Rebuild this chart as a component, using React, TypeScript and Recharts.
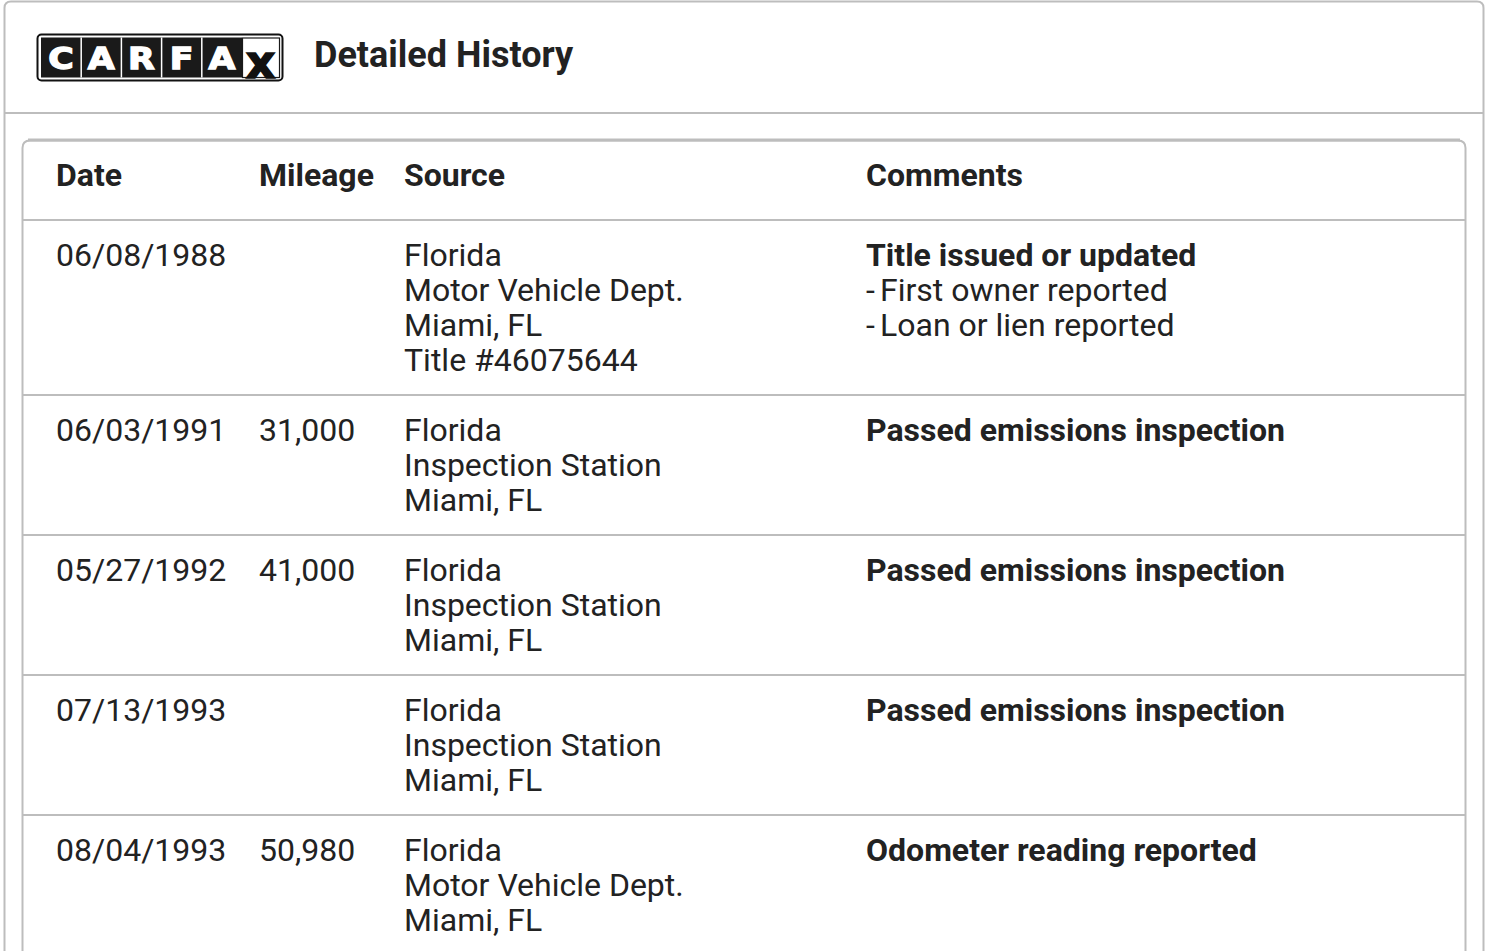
import React from "react";
import { ComposedChart, Customized } from "recharts";

const headers = ["Date", "Mileage", "Source", "Comments"];
const dates = ["06/08/1988", "06/03/1991", "05/27/1992", "07/13/1993", "08/04/1993"];
const mileages = ["", "31,000", "41,000", "", "50,980"];
const sources = [
  ["Florida", "Motor Vehicle Dept.", "Miami, FL", "Title #46075644"],
  ["Florida", "Inspection Station", "Miami, FL"],
  ["Florida", "Inspection Station", "Miami, FL"],
  ["Florida", "Inspection Station", "Miami, FL"],
  ["Florida", "Motor Vehicle Dept.", "Miami, FL"],
];
const commentTitles = [
  "Title issued or updated",
  "Passed emissions inspection",
  "Passed emissions inspection",
  "Passed emissions inspection",
  "Odometer reading reported",
];
const commentDetails = [
  ["First owner reported", "Loan or lien reported"],
  [],
  [],
  [],
  [],
];
const logoLetters = ["C", "A", "R", "F", "A"];
const pageTitle = "Detailed History";

const rows = dates.map((d, i) => ({
  date: d,
  mileage: mileages[i],
  source: sources[i],
  title: commentTitles[i],
  details: commentDetails[i],
}));

const W = 1489;
const H = 951;
const FONT = "Roboto, 'Noto Sans', sans-serif";
const TEXT = "#222222";
const BORDER = "#bdbdbd";
const COLX = [56, 259, 404, 866];
const LINE_H = 35;
const FS = 32;
const HEADER_BOTTOM = 220;

const Logo = () => {
  const x0 = 41;
  const cellW = 40.2;
  return (
    <g>
      <rect x={37.5} y={34.5} width={245} height={46} rx={4} fill="#fff" stroke="#111" strokeWidth={2} />
      <rect x={x0} y={37.5} width={201} height={40} fill="#1a1a1a" />
      {logoLetters.map((l, i) => (
        <g key={i}>
          {i > 0 && <line x1={x0 + i * cellW} x2={x0 + i * cellW} y1={37.5} y2={77.5} stroke="#fff" strokeWidth={1.5} />}
          <text
            x={x0 + i * cellW + cellW / 2}
            y={69.5}
            textAnchor="middle"
            fill="#fff"
            stroke="#fff"
            strokeWidth={1.4}
            fontFamily="'DejaVu Sans', sans-serif"
            fontWeight={700}
            fontSize={31}
            transform={`translate(${x0 + i * cellW + cellW / 2} 0) scale(1.12 1) translate(${-(x0 + i * cellW + cellW / 2)} 0)`}
          >
            {l}
          </text>
        </g>
      ))}
      <rect x={242.5} y={38} width={37} height={39.5} fill="#fff" stroke="#1a1a1a" strokeWidth={1.2} />
      <text
        x={260.5}
        y={78}
        textAnchor="middle"
        fill="#111"
        stroke="#111"
        strokeWidth={1.5}
        fontFamily="'DejaVu Sans', sans-serif"
        fontWeight={700}
        fontSize={46}
      >
        x
      </text>
    </g>
  );
};

const TableLayer = () => {
  let y = HEADER_BOTTOM;
  const rowEls: React.ReactNode[] = [];
  rows.forEach((r, i) => {
    const lines = Math.max(r.source.length, 1 + r.details.length);
    const h = lines * LINE_H + 35;
    const base = y + 46;
    rowEls.push(
      <g key={i}>
        <text x={COLX[0]} y={base} fill={TEXT} fontSize={FS} fontFamily={FONT}>{r.date}</text>
        {r.mileage && <text x={COLX[1]} y={base} fill={TEXT} fontSize={FS} fontFamily={FONT}>{r.mileage}</text>}
        {r.source.map((s, k) => (
          <text key={k} x={COLX[2]} y={base + k * LINE_H} fill={TEXT} fontSize={FS} fontFamily={FONT}>{s}</text>
        ))}
        <text x={COLX[3]} y={base} fill={TEXT} fontSize={FS} fontWeight={700} fontFamily={FONT}>{r.title}</text>
        {r.details.map((d, k) => (
          <g key={k}>
            <text x={COLX[3]} y={base + (k + 1) * LINE_H} fill={TEXT} fontSize={FS} fontFamily={FONT}>-</text>
            <text x={COLX[3] + 14} y={base + (k + 1) * LINE_H} fill={TEXT} fontSize={FS} fontFamily={FONT}>{d}</text>
          </g>
        ))}
        {i > 0 && <line x1={23} x2={1465} y1={y} y2={y} stroke={BORDER} strokeWidth={2} />}
      </g>
    );
    y += h;
  });
  return (
    <g>
      <rect x={0} y={0} width={W} height={H} fill="#fff" />
      <path d={`M4.5 ${H + 10} L4.5 8 Q4.5 1.5 11 1.5 L1477 1.5 Q1483.5 1.5 1483.5 8 L1483.5 ${H + 10}`} fill="none" stroke={BORDER} strokeWidth={2} />
      <line x1={4.5} x2={1483.5} y1={113} y2={113} stroke={BORDER} strokeWidth={2} />
      <Logo />
      <text x={314} y={67} fill={TEXT} fontSize={36} fontWeight={700} fontFamily={FONT}>{pageTitle}</text>
      <path d={`M22.5 ${H + 10} L22.5 148 Q22.5 140.5 30 140.5 L1458 140.5 Q1465.5 140.5 1465.5 148 L1465.5 ${H + 10}`} fill="none" stroke={BORDER} strokeWidth={2} />
      <line x1={28} x2={1460} y1={140} y2={140} stroke={BORDER} strokeWidth={3} />
      {headers.map((h, i) => (
        <text key={h} x={COLX[i]} y={186} fill={TEXT} fontSize={FS} fontWeight={700} fontFamily={FONT}>{h}</text>
      ))}
      <line x1={23} x2={1465} y1={HEADER_BOTTOM} y2={HEADER_BOTTOM} stroke={BORDER} strokeWidth={2} />
      {rowEls}
    </g>
  );
};

export default function App() {
  return (
    <div style={{ position: "absolute", left: 0, top: 0, width: W, height: H, background: "#fff" }}>
      <ComposedChart width={W} height={H} data={rows} margin={{ top: 0, right: 0, bottom: 0, left: 0 }}>
        <Customized component={TableLayer} />
      </ComposedChart>
    </div>
  );
}
